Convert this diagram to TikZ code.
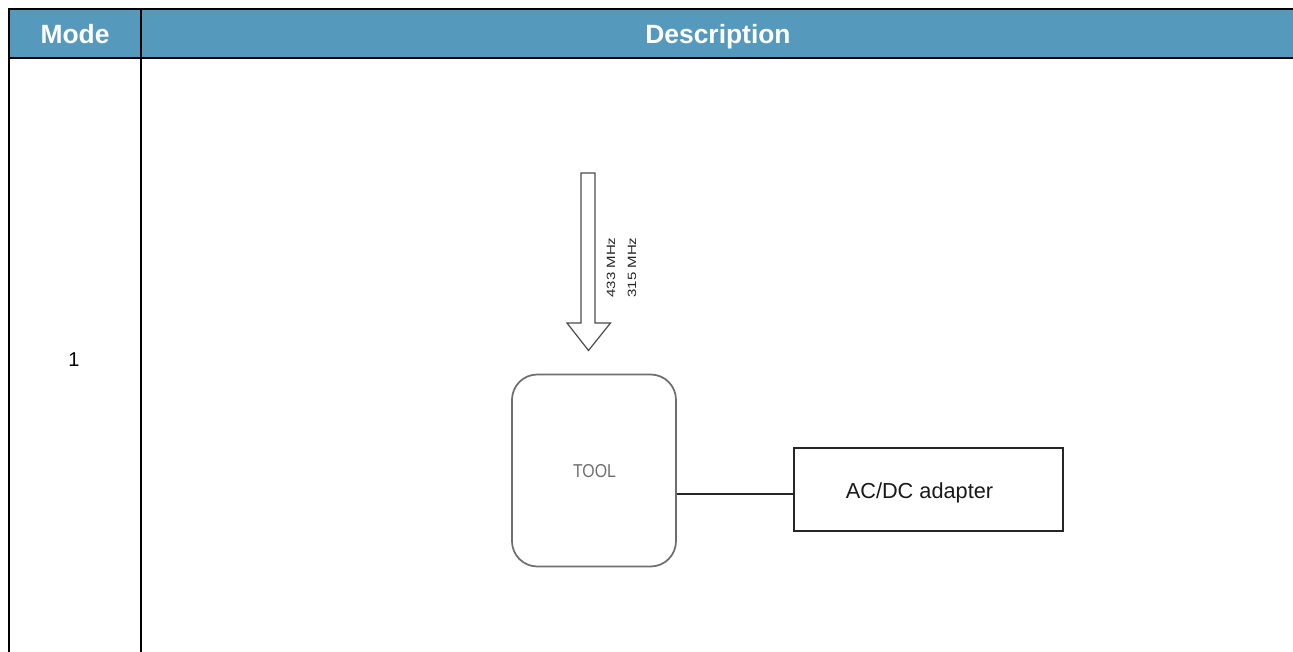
\documentclass[tikz,border=0pt]{standalone}
\usepackage{fontspec}
\usepackage{graphicx}
\setmainfont{Liberation Sans}
\definecolor{hdr}{RGB}{85,154,189}
\definecolor{toolgray}{RGB}{110,110,110}
\begin{document}
\begin{tikzpicture}[x=0.75pt,y=-0.75pt,
  gridline/.style={draw=black,line width=1.5pt},
  hdrtext/.style={text=white,font=\fontsize{19.8}{24}\selectfont\bfseries,inner sep=0pt,anchor=base},
  celltext/.style={text=black,font=\fontsize{15}{18}\selectfont,inner sep=0pt},
  toolbox/.style={draw=toolgray,line width=1.3pt,rounded corners=19pt,minimum width=123pt,minimum height=144pt,inner sep=0pt},
  adapterbox/.style={draw=black!85,line width=1pt,minimum width=201.75pt,minimum height=62.25pt,inner sep=0pt},
  freqtext/.style={text=black!85,font=\fontsize{9}{10}\selectfont,rotate=90,inner sep=0pt},
  link/.style={draw=black!85,line width=1pt}]
\useasboundingbox (0,0) rectangle (1293,652);
% header
\fill[hdr] (9,9) rectangle (1293,58);
\draw[gridline] (9,9) -- (1293,9);
\draw[gridline] (9,58) -- (1293,58);
\draw[gridline] (9,8.3) -- (9,652);
\draw[gridline] (141,8.3) -- (141,652);
\node[hdrtext] (hmode) at (75,43.5) {Mode};
\node[hdrtext] (hdesc) at (718,43.5) {Description};
\node[celltext] (mode1) at (74,360) {1};
% arrow
\draw[draw=black!70,line width=0.9pt,line join=miter]
  (581,173) -- (595,173) -- (595,323) -- (610.5,323) -- (588.5,350.5) -- (567,323) -- (581,323) -- cycle;
\node[freqtext] (f433) at (611,267.5) {\scalebox{1.25}[1]{433 MHz}};
\node[freqtext] (f315) at (632,267.5) {\scalebox{1.25}[1]{315 MHz}};
% tool
\node[toolbox] (tool) at (594,470.5) {};
\node[text=toolgray,font=\fontsize{14}{16}\selectfont,inner sep=0pt] (tooltxt) at (594.5,471) {\scalebox{0.85}[1]{TOOL}};
% adapter
\node[adapterbox] (adapter) at (928.5,489.5) {};
\node[text=black!90,font=\fontsize{16.3}{19}\selectfont,inner sep=0pt] (adtxt) at (919.5,493) {AC/DC adapter};
\coordinate (ly) at (0,494);
\draw[link] (tool.east |- ly) -- (adapter.west |- ly);
\end{tikzpicture}
\end{document}
